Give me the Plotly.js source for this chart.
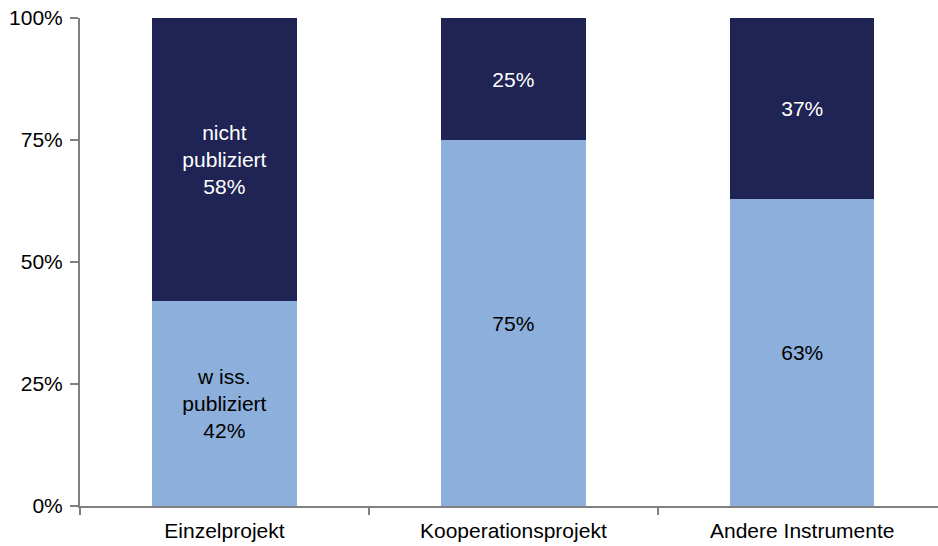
<!DOCTYPE html>
<html>
<head>
<meta charset="utf-8">
<script src="https://cdn.plot.ly/plotly-3.0.1.min.js"></script>
<style>
  body { margin: 0; background: #fff; }
  #chart { width: 938px; height: 546px; }
</style>
</head>
<body>
<div id="chart"></div>
<script>
let categories = ['Einzelprojekt', 'Kooperationsprojekt', 'Andere Instrumente'];
let publiziert = [42, 75, 63];
let nichtPubliziert = [58, 25, 37];
let publiziertText = ['w iss.<br>publiziert<br>42%', '75%', '63%'];
let nichtText = ['nicht<br>publiziert<br>58%', '25%', '37%'];
let yTicks = [0, 25, 50, 75, 100];
let yTickText = ['0%', '25%', '50%', '75%', '100%'];

let font = 'Liberation Sans, Arial, sans-serif';

let traces = [
  {
    x: categories,
    y: publiziert,
    text: publiziertText,
    type: 'bar',
    name: 'wiss. publiziert',
    marker: {color: '#8DAFDB'},
    textposition: 'inside',
    insidetextanchor: 'middle',
    textfont: {family: font, size: 21, color: '#000'},
    hoverinfo: 'none'
  },
  {
    x: categories,
    y: nichtPubliziert,
    text: nichtText,
    type: 'bar',
    name: 'nicht publiziert',
    marker: {color: '#1F2454'},
    textposition: 'inside',
    insidetextanchor: 'middle',
    textfont: {family: font, size: 21, color: '#fff'},
    hoverinfo: 'none'
  }
];

let layout = {
  width: 938,
  height: 546,
  barmode: 'stack',
  bargap: 0.5,
  showlegend: false,
  margin: {l: 80, r: 0, t: 18, b: 40},
  paper_bgcolor: '#fff',
  plot_bgcolor: '#fff',
  font: {family: font, size: 21, color: '#000'},
  xaxis: {
    type: 'category',
    range: [-0.5, 2.47],
    tickson: 'boundaries',
    ticks: 'outside',
    ticklen: 7,
    tickwidth: 2,
    tickcolor: '#808080',
    showline: true,
    linecolor: '#808080',
    linewidth: 2,
    showgrid: false,
    ticklabelstandoff: 5,
    tickfont: {family: font, size: 21, color: '#000'}
  },
  yaxis: {
    range: [0, 100],
    tickvals: yTicks,
    ticktext: yTickText,
    ticks: 'outside',
    ticklen: 8,
    tickwidth: 2,
    tickcolor: '#808080',
    showline: true,
    linecolor: '#808080',
    linewidth: 2,
    showgrid: false,
    zeroline: false,
    ticklabelstandoff: 3,
    tickfont: {family: font, size: 21, color: '#000'}
  }
};

Plotly.newPlot('chart', traces, layout, {displayModeBar: false, staticPlot: true});
</script>
</body>
</html>
